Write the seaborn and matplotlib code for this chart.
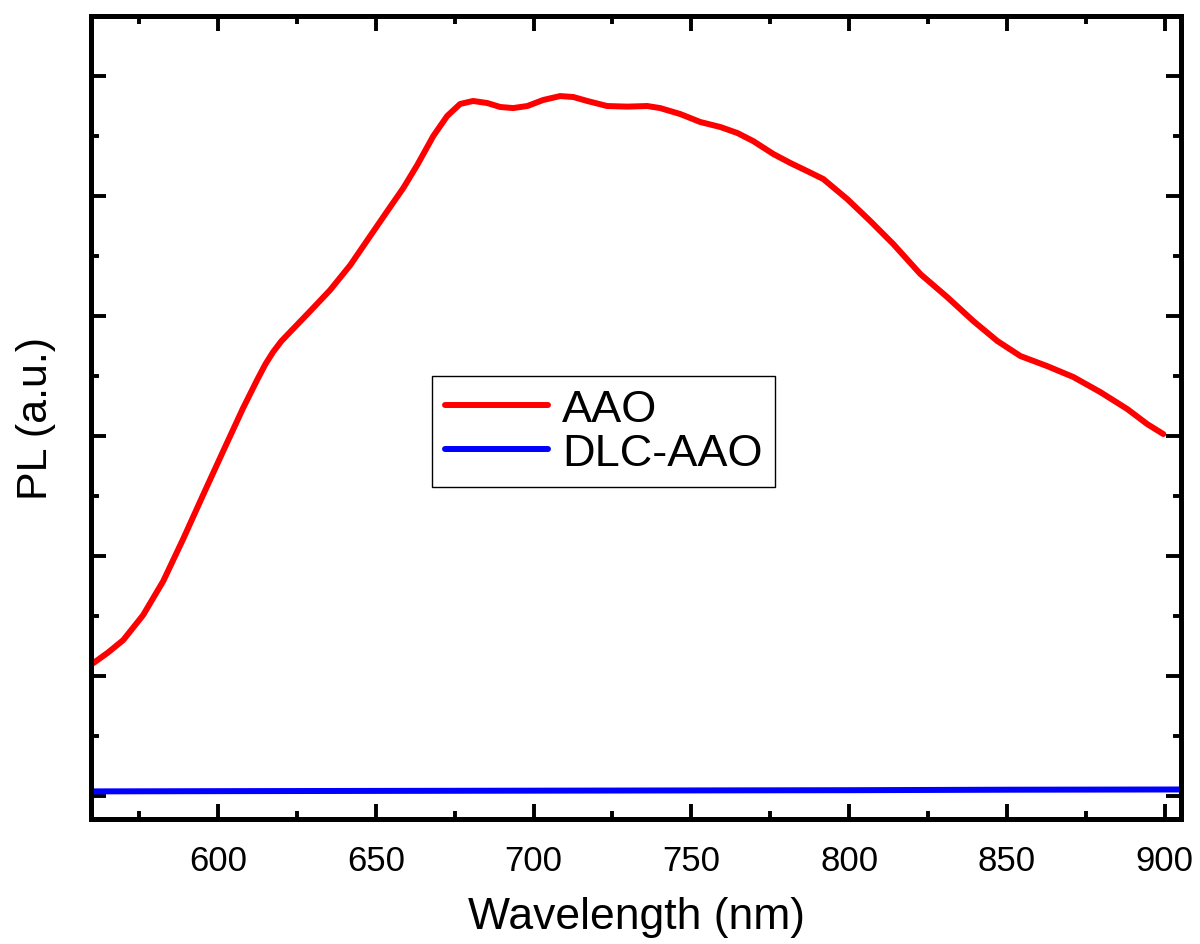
import numpy as np
import pandas as pd
import seaborn as sns
import matplotlib.pyplot as plt
from matplotlib.ticker import MultipleLocator, NullFormatter

# AAO photoluminescence spectrum (arbitrary units)
aao_wavelength = [560.4, 565.0, 569.9, 576.2, 582.6, 588.9, 595.2, 601.6, 607.9, 612.4,
                  615.0, 617.4, 620.0, 622.8, 629.2, 635.5, 641.9, 648.2, 654.5, 658.7,
                  663.1, 668.2, 672.6, 676.7, 680.8, 685.3, 689.4, 693.5, 698.0, 703.0,
                  708.4, 712.6, 717.0, 723.3, 729.7, 736.0, 740.1, 746.5, 752.8, 759.2,
                  764.6, 769.6, 776.0, 781.4, 786.7, 791.8, 799.4, 806.7, 814.0, 822.6,
                  831.1, 839.4, 847.0, 854.3, 862.8, 871.1, 879.6, 888.2, 894.5, 899.6]
aao_pl = [1.108, 1.195, 1.300, 1.508, 1.792, 2.142, 2.508, 2.875, 3.233, 3.470,
          3.600, 3.700, 3.790, 3.867, 4.042, 4.217, 4.425, 4.667, 4.908, 5.067,
          5.258, 5.500, 5.667, 5.767, 5.792, 5.775, 5.742, 5.733, 5.750, 5.800,
          5.833, 5.825, 5.792, 5.750, 5.745, 5.750, 5.733, 5.683, 5.617, 5.575,
          5.525, 5.458, 5.350, 5.275, 5.208, 5.142, 4.975, 4.792, 4.600, 4.350,
          4.158, 3.958, 3.792, 3.667, 3.583, 3.492, 3.367, 3.225, 3.100, 3.017]

# DLC-coated AAO: essentially flat near zero
dlc_wavelength = [560, 600, 650, 700, 750, 800, 850, 905]
dlc_pl = [0.040, 0.042, 0.044, 0.046, 0.048, 0.050, 0.054, 0.056]

df = pd.concat([
    pd.DataFrame({'Wavelength': aao_wavelength, 'PL': aao_pl, 'sample': 'AAO'}),
    pd.DataFrame({'Wavelength': dlc_wavelength, 'PL': dlc_pl, 'sample': 'DLC-AAO'}),
], ignore_index=True)

sns.set_style('ticks')
plt.rcParams['font.family'] = ['Liberation Sans', 'DejaVu Sans']
plt.rcParams['text.color'] = 'black'
plt.rcParams['axes.labelcolor'] = 'black'
plt.rcParams['xtick.color'] = 'black'
plt.rcParams['ytick.color'] = 'black'

fig = plt.figure(figsize=(12, 9.45), dpi=100)
ax = fig.add_axes([91 / 1200, 1 - 820 / 945, 1090 / 1200, 803 / 945])

sns.lineplot(data=df, x='Wavelength', y='PL', hue='sample',
             palette={'AAO': '#ff0000', 'DLC-AAO': '#0000ff'},
             linewidth=4.3, ax=ax, sort=False, estimator=None,
             solid_joinstyle='round', solid_capstyle='round')

ax.set_xlim(559.7, 905.2)
ax.set_ylim(-0.19, 6.5)

ax.xaxis.set_major_locator(MultipleLocator(50))
ax.xaxis.set_minor_locator(MultipleLocator(25))
ax.yaxis.set_major_locator(MultipleLocator(1))
ax.yaxis.set_minor_locator(MultipleLocator(0.5))
ax.yaxis.set_major_formatter(NullFormatter())

ax.tick_params(which='both', direction='in', top=True, right=True, width=2.8,
               colors='black', labelcolor='black')
ax.tick_params(which='major', length=11)
ax.tick_params(which='minor', length=5.5)
ax.tick_params(axis='x', which='major', labelsize=25, pad=18)

for spine in ax.spines.values():
    spine.set_linewidth(3.6)
    spine.set_color('black')

ax.set_xlabel('Wavelength (nm)', fontsize=32, labelpad=14, color='black')
ax.set_ylabel('PL (a.u.)', fontsize=31, labelpad=22, color='black')

leg = ax.legend(loc='upper left', bbox_to_anchor=(432 / 1200, 1 - 377 / 945),
                bbox_transform=fig.transFigure, borderaxespad=0, fontsize=32.5,
                frameon=True, fancybox=False, edgecolor='black', framealpha=1,
                handlelength=2.3, handletextpad=0.3, labelspacing=0.08, borderpad=0.28)
leg.get_frame().set_linewidth(1.0)
for line in leg.get_lines():
    line.set_linewidth(4.3)
    line.set_solid_capstyle('round')
for text in leg.get_texts():
    text.set_color('black')

fig.savefig('out.png', dpi=100)
